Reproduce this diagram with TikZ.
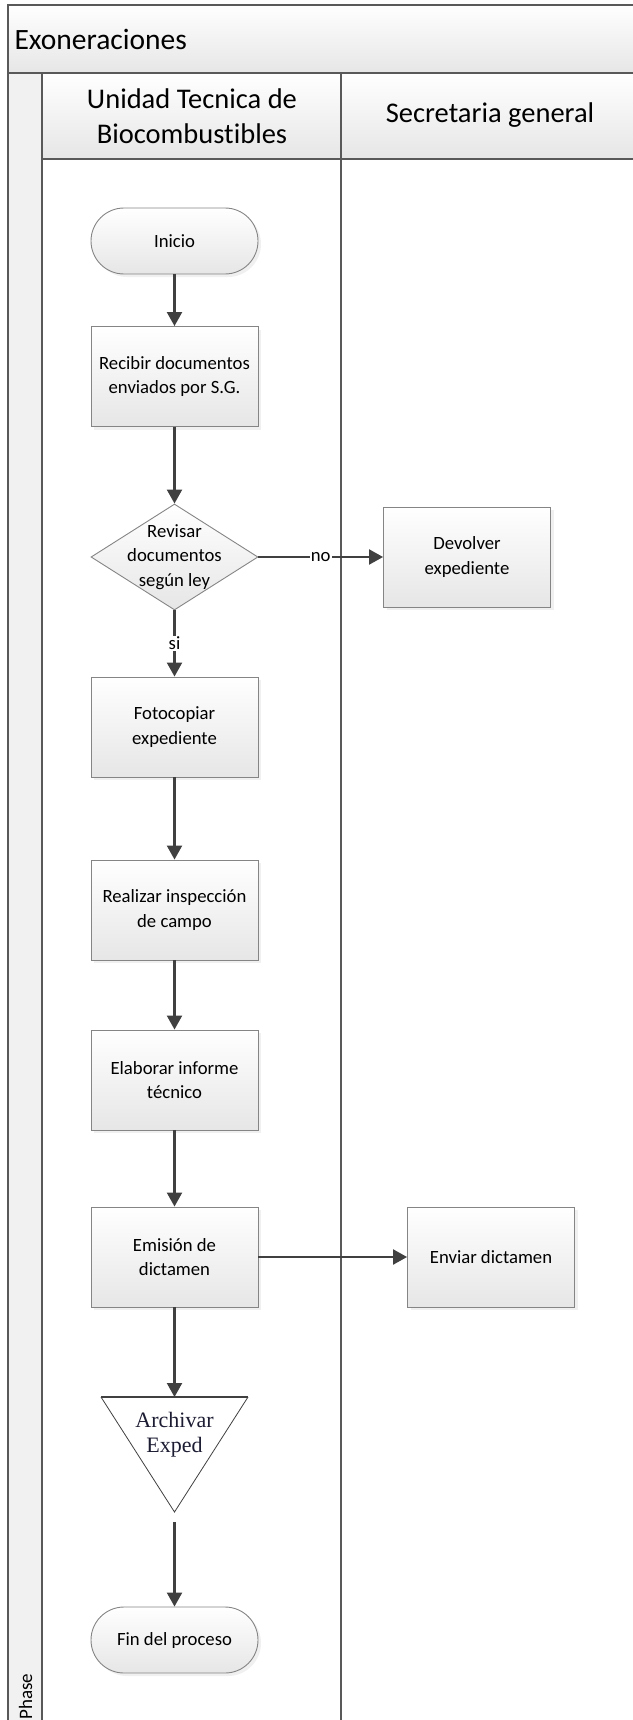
\documentclass[tikz,border=0pt]{standalone}
\usepackage{fontspec}
\setmainfont{Carlito}[Ligatures=NoCommon]
\newfontfamily\archfont{Liberation Serif}
\usepackage{xcolor}
\usetikzlibrary{shapes.geometric,arrows.meta,positioning,shadows}
\definecolor{lanegray}{HTML}{595959}
\definecolor{flowgray}{HTML}{404040}
\definecolor{boxgray}{HTML}{858585}
\definecolor{bandgray}{HTML}{E6E6E6}
\definecolor{archblue}{HTML}{1C1C33}

\begin{document}
\begin{tikzpicture}[x=1pt,y=-1pt,
    lane/.style={draw=lanegray, line width=1.6pt},
    box/.style={draw=boxgray, line width=0.9pt, top color=white, bottom color=bandgray,
        minimum width=167pt, minimum height=100pt, inner sep=0pt, align=center,
        font=\fontsize{18.7}{24.5}\selectfont,
        drop shadow={shadow xshift=3pt, shadow yshift=-3pt, opacity=0.12}},
    term/.style={box, rounded corners=33pt, minimum height=66pt},
    decision/.style={diamond, aspect=1.575, draw=boxgray, line width=0.9pt,
        top color=white, bottom color=bandgray, minimum width=167pt,
        minimum height=106pt, inner sep=0pt},
    flow/.style={draw=flowgray, line width=2.2pt, -{Triangle[length=14pt,width=15pt]}},
    lbl/.style={fill=white, inner sep=1pt, font=\fontsize{18.7}{22}\selectfont}]
    \useasboundingbox (0,0) rectangle (632,1720);

    % Pool and lanes
    \fill[top color=white, bottom color=bandgray] (8,5) rectangle (640,73);
    \fill[top color=white, bottom color=bandgray] (42,73) rectangle (640,159);
    \fill[bandgray!55] (8,73) rectangle (42,1725);
    \draw[lane] (640,5) -- (8,5) -- (8,1725);
    \draw[lane] (8,73) -- (640,73);
    \draw[lane] (42,73) -- (42,1725);
    \draw[lane] (42,159) -- (640,159);
    \draw[lane] (341,73) -- (341,1725);
    \node[anchor=west, font=\fontsize{29.5}{32}\selectfont] (pool) at (11,39) {Exoneraciones};
    \node[align=center, font=\fontsize{28.5}{35}\selectfont] (utb) at (192,116) {Unidad Tecnica de\\Biocombustibles};
    \node[font=\fontsize{28.5}{32}\selectfont] (sg) at (490,115) {Secretaria general};
    \node[rotate=90, anchor=base west, font=\fontsize{19}{22}\selectfont] (phase) at (32,1723) {Phase};

    % Flow nodes
    \node[term] (inicio) at (174.5,241) {Inicio};
    \node[box] (recibir) at (174.5,376.5) {Recibir documentos\\enviados por S.G.};
    \node[decision] (revisar) at (174.5,557) {};
    \node[align=center, font=\fontsize{18.7}{24.5}\selectfont] (revtxt) at (174.5,557) {Revisar\\documentos\\según ley};
    \node[box] (devolver) at (467,557) {Devolver\\expediente};
    \node[box] (fotocopiar) at (174.5,727) {Fotocopiar\\expediente};
    \node[box] (inspeccion) at (174.5,910) {Realizar inspección\\de campo};
    \node[box] (informe) at (174.5,1080) {Elaborar informe\\técnico};
    \node[box] (emision) at (174.5,1257) {Emisión de\\dictamen};
    \node[box] (enviar) at (491,1257) {Enviar dictamen};
    \node[term] (fin) at (174.5,1640) {Fin del proceso};

    % Archive triangle
    \coordinate (archtl) at (101,1397);
    \coordinate (archtr) at (248,1397);
    \coordinate (archtop) at (174.5,1397);
    \coordinate (archapex) at (174.5,1512);
    \fill[white] (archtl) -- (archtr) -- (archapex) -- cycle;
    \draw[flowgray, line width=0.8pt] (archtl) -- (archapex) -- (archtr);
    \draw[flowgray, line width=2pt] (archtl) -- (archtr);
    \node[align=center, text=archblue, font=\archfont\fontsize{22}{25}\selectfont] (archtxt) at (174.5,1435) {Archivar\\Exped};

    % Connectors
    \draw[flow] (inicio) -- (recibir);
    \draw[flow] (recibir) -- (revisar);
    \draw[flow] (revisar) -- (fotocopiar) node[lbl, pos=0.5] (si) {si};
    \draw[flow] (revisar) -- (devolver) node[lbl, pos=0.5] (no) {no};
    \draw[flow] (fotocopiar) -- (inspeccion);
    \draw[flow] (inspeccion) -- (informe);
    \draw[flow] (informe) -- (emision);
    \draw[flow] (emision) -- (enviar);
    \draw[flow] (emision) -- (archtop);
    \draw[flow, shorten <=10pt] (archapex) -- (fin);
\end{tikzpicture}
\end{document}
